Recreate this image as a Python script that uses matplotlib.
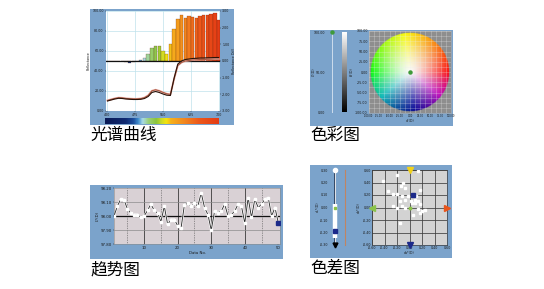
import numpy as np
import matplotlib
matplotlib.use("Agg")
import matplotlib.pyplot as plt
from matplotlib.colors import LinearSegmentedColormap, Normalize, hsv_to_rgb
from matplotlib.patches import Rectangle
from matplotlib.lines import Line2D

# ---------------- data ----------------
captions = ["光谱曲线", "色彩图", "趋势图", "色差图"]

wavelengths = list(range(400, 701, 10))
refl_diff = [0.0, 0.02, 0.01, 0.0, 0.02, -0.05, -0.12, -0.06, 0.02, 0.05,
             0.16, 0.42, 0.8, 0.9, 0.88, 0.62, 0.45, 1.0, 1.9, 2.5,
             2.75, 2.6, 2.7, 2.65, 2.6, 2.7, 2.75, 2.75, 2.8, 2.9, 2.45]
refl_standard = [10, 11, 12, 12.7, 12.5, 12, 11.7, 11.5, 11.5, 11.7,
                 12.5, 14.5, 18.5, 19.5, 18.5, 17, 15.8, 15.5, 33, 47,
                 50, 51.5, 52, 52.5, 52.7, 53, 53, 53.2, 53.3, 53.5, 53.5]
refl_sample = [10.6, 11.6, 12.6, 13.3, 13.1, 12.6, 12.3, 12.1, 12.1, 12.4,
               13.4, 15.6, 20.2, 21.2, 20.2, 18.6, 17.2, 16.6, 32, 45.5,
               48.5, 50, 50.5, 51, 51.2, 51.5, 51.5, 51.7, 51.8, 52, 52]
spec_ticks = [400, 475, 550, 625, 700]
refl_ticks = [0, 20, 40, 60, 80, 100]
diff_ticks = [-3, -2, -1, 0, 1, 2, 3]

L_ticks = [0, 50, 100]
L_sample = 100
ab_ticks = [-100, -75, -50, -25, 0, 25, 50, 75, 100]
a_sample, b_sample = 0, 0

trend_x = list(range(1, 51))
trend_L = [98.00, 98.07, 98.12, 98.115, 98.05, 98.02, 98.01, 98.01, 97.99, 98.00,
           98.04, 98.085, 98.04, 98.02, 97.96, 98.07, 97.94, 97.975, 97.975, 97.93,
           97.915, 98.08, 98.09, 98.07, 98.09, 98.07, 98.165, 98.06, 98.01, 97.90,
           98.035, 98.025, 98.035, 98.085, 98.00, 98.01, 98.035, 98.085, 98.07, 97.95,
           98.13, 97.99, 98.12, 98.06, 98.085, 98.12, 98.13, 98.00, 98.06, 97.95]
trend_xticks = [10, 20, 30, 40, 50]
trend_yticks = [97.80, 97.90, 98.00, 98.10, 98.20]
trend_target = 98.00

dL_ticks = [-0.3, -0.2, -0.1, 0.0, 0.1, 0.2, 0.3]
dL_range = [0.03, -0.24]
dL_current = -0.19
dL_top = 0.30
da_values = [-0.20, 0.13, -0.43, -0.10, -0.14, -0.07, 0.17, -0.34, -0.27, -0.20,
             -0.12, -0.02, -0.07, -0.15, 0.03, 0.09, 0.14, 0.04, 0.09, 0.17,
             -0.27, -0.20, -0.12, -0.07, 0.14, 0.25, 0.20, 0.06, 0.17, -0.15, 0.11]
db_values = [0.52, 0.59, 0.43, 0.40, 0.34, 0.31, 0.28, 0.26, 0.21, 0.21,
             0.19, 0.18, 0.12, 0.11, 0.10, 0.12, 0.10, 0.07, 0.07, 0.06,
             0.02, 0.00, 0.02, -0.01, -0.03, -0.04, -0.06, -0.12, -0.09, -0.25, 0.18]
da_current, db_current = 0.06, 0.20
dab_ticks = [-0.6, -0.4, -0.2, 0.0, 0.2, 0.4, 0.6]

# ---------------- layout helpers ----------------
W, H = 544, 289
fig = plt.figure(figsize=(W / 100, H / 100), dpi=100)
fig.patch.set_facecolor("white")
BLUE = "#7ba3cb"
TINY = 2.3
TXT = "#1a1a1a"


def rect(x0, y0, x1, y1):
    return [x0 / W, 1 - y1 / H, (x1 - x0) / W, (y1 - y0) / H]


def frame(x0, y0, x1, y1):
    fig.add_artist(Rectangle((x0 / W, 1 - y1 / H), (x1 - x0) / W, (y1 - y0) / H,
                             transform=fig.transFigure, facecolor=BLUE,
                             edgecolor="none", zorder=-5))


def ftext(x, y, s, **kw):
    kw.setdefault("fontsize", TINY)
    kw.setdefault("color", TXT)
    fig.text(x / W, 1 - y / H, s, **kw)


def tiny_axes(ax):
    ax.tick_params(labelsize=TINY, length=0.8, width=0.3, pad=0.8, colors=TXT)


# ---------------- panel 1 : spectral curves ----------------
frame(90, 9, 234, 125)
spec_cmap = LinearSegmentedColormap.from_list("spec", [
    (0.0, "#0a1a55"), (0.18, "#0f2a72"), (0.25, "#1d4f9e"), (0.29, "#3f8ccc"),
    (0.33, "#a9dbe6"), (0.38, "#9bd17a"), (0.45, "#8ac43c"), (0.5, "#cfdc25"),
    (0.54, "#f4e40c"), (0.58, "#f6b01b"), (0.7, "#f2861f"), (0.82, "#ed5a1b"),
    (1.0, "#e43c15")])
wnorm = Normalize(400, 700)

ax_g = fig.add_axes(rect(106, 11, 220, 111))
ax_g.set_facecolor("white")
ax_g.set_xlim(396, 704)
ax_g.set_ylim(0, 100)
ax_g.set_xticks(spec_ticks)
ax_g.set_yticks(refl_ticks)
ax_g.set_xticklabels([str(t) for t in spec_ticks])
ax_g.set_yticklabels([f"{t:.2f}" for t in refl_ticks])
ax_g.grid(True, color="#bfe2ec", lw=0.5)
tiny_axes(ax_g)
ax_g.set_xlabel("Wavelength (nm)", fontsize=TINY, labelpad=0.5, color=TXT)
ax_g.set_ylabel("Reflectance", fontsize=TINY, labelpad=1, color=TXT)
for s in ax_g.spines.values():
    s.set_visible(False)

ax_b = ax_g.twinx()
ax_b.set_ylim(-3, 3)
ax_b.set_yticks(diff_ticks)
ax_b.set_yticklabels([f"{t:.2f}" for t in diff_ticks])
tiny_axes(ax_b)
ax_b.set_ylabel("Reflectance Diff.", fontsize=TINY, labelpad=1, color=TXT)
for s in ax_b.spines.values():
    s.set_visible(False)
bar_colors = spec_cmap(wnorm(np.array(wavelengths)))
ax_b.bar(wavelengths, refl_diff, width=9.2, color=bar_colors,
         edgecolor=(0.35, 0.12, 0.05, 0.55), linewidth=0.3, zorder=2)
ax_b.axhline(0, color="#111111", lw=0.9, zorder=3)

ax_c = fig.add_axes(rect(106, 11, 220, 111), sharex=ax_g, sharey=ax_g)
ax_c.set_facecolor("none")
ax_c.axis("off")
ax_c.plot(wavelengths, refl_sample, color="#e6aaa2", lw=1.4)
ax_c.plot(wavelengths, refl_sample, color="#9c4a30", lw=0.6)
ax_c.plot(wavelengths, refl_standard, color="#2a1208", lw=0.8)

ax_cb = fig.add_axes(rect(105, 118, 219, 124))
grad = np.linspace(400, 700, 300)[None, :]
ax_cb.imshow(grad, cmap=spec_cmap, norm=wnorm, aspect="auto",
             extent=[400, 700, 0, 1])
ax_cb.axis("off")

# ---------------- panel 2 : colour plot ----------------
frame(310, 30, 453, 126)
ax_L = fig.add_axes(rect(326, 32, 338, 113))
ax_L.set_xlim(-1, 1)
ax_L.set_ylim(min(L_ticks), max(L_ticks))
ax_L.set_facecolor("none")
ax_L.axvline(0, color="#cddced", lw=0.7)
ax_L.plot([0], [L_sample], "o", color="#3f9a3a", ms=2.2, clip_on=False)
ax_L.set_xticks([])
ax_L.set_yticks(L_ticks)
ax_L.set_yticklabels([f"{t:.2f}" for t in L_ticks])
tiny_axes(ax_L)
ax_L.tick_params(length=0, pad=0.5)
for s in ax_L.spines.values():
    s.set_visible(False)
ftext(314, 72, "L*(D)", rotation=90, ha="center", va="center")

ax_gray = fig.add_axes(rect(342, 32, 347, 112))
ax_gray.imshow(np.linspace(0, 1, 200)[:, None], cmap="gray", origin="lower",
               aspect="auto")
ax_gray.axis("off")

ax_ab = fig.add_axes(rect(369, 31, 451, 113))
ax_ab.set_facecolor("#8e8e8e")
ax_ab.set_xlim(-100, 100)
ax_ab.set_ylim(-100, 100)
n = 300
g = np.linspace(-100, 100, n)
A, B = np.meshgrid(g, g)
r = np.hypot(A, B)
R = 96
ang = np.degrees(np.arctan2(B, A)) % 360
hue = np.interp(ang, [0, 45, 90, 135, 180, 225, 270, 315, 360],
                [0, 28, 55, 85, 120, 185, 232, 290, 360]) / 360
sat = np.clip(r / R, 0, 1) ** 1.25 * 0.95
down = np.clip(-np.sin(np.radians(ang)), 0, 1)
val = 0.98 - 0.4 * down * np.clip(r / R, 0, 1)
rgb = hsv_to_rgb(np.dstack([hue, sat, val]))
alpha = (r <= R).astype(float)
ax_ab.imshow(np.dstack([rgb, alpha]), extent=[-100, 100, -100, 100],
             origin="lower", zorder=1)
ax_ab.set_xticks(ab_ticks)
ax_ab.set_yticks(ab_ticks)
ax_ab.set_xticks(np.arange(-100, 101, 12.5), minor=True)
ax_ab.set_yticks(np.arange(-100, 101, 12.5), minor=True)
ax_ab.grid(True, which="both", color="#eeeeee", lw=0.4, alpha=0.45, zorder=2)
ax_ab.set_axisbelow(False)
ax_ab.set_xticklabels([f"{t:.2f}" for t in ab_ticks], fontsize=1.8)
ax_ab.set_yticklabels([f"{t:.2f}" for t in ab_ticks])
tiny_axes(ax_ab)
ax_ab.tick_params(which="both", length=0)
ax_ab.tick_params(axis="x", labelsize=1.8)
for s in ax_ab.spines.values():
    s.set_color("#a8a8a8")
    s.set_linewidth(0.4)
ax_ab.plot([a_sample], [b_sample], "o", color="#3f9a3a", ms=2.2, zorder=4)
ax_ab.set_xlabel("a*(D)", fontsize=TINY, labelpad=1, color=TXT)
ax_ab.set_ylabel("b*(D)", fontsize=TINY, labelpad=1, color=TXT)

# ---------------- panel 3 : trend ----------------
frame(90, 185, 283, 259)
ax_t = fig.add_axes(rect(114, 188, 280, 244))
ax_t.set_facecolor("#d9d1d5")
ax_t.set_xlim(1, 50.5)
ax_t.set_ylim(min(trend_yticks), max(trend_yticks))
for xv in trend_xticks[:-1]:
    ax_t.axvline(xv, color="#3a3a3a", lw=0.6, zorder=1)
for xv in [5, 15, 25, 35, 45]:
    ax_t.axvline(xv, color="#4a4a4a", lw=0.5, ls=(0, (1, 1.5)), zorder=1)
for yv in trend_yticks[1:-1]:
    ax_t.axhline(yv, color="#8c8c8c", lw=0.5, zorder=1)
ax_t.axhline(trend_target, color="#111111", lw=0.9, zorder=1)
ax_t.plot(trend_x, trend_L, color="white", lw=1.5, zorder=2)
ax_t.plot(trend_x, trend_L, color="#222222", lw=0.6, zorder=3,
          marker="s", ms=1.8, mfc="white", mec="white")
ax_t.plot(trend_x[-1:], trend_L[-1:], "s", color="#1c2a8a", ms=2.2, zorder=4)
ax_t.set_xticks(trend_xticks)
ax_t.set_yticks(trend_yticks)
ax_t.set_yticklabels([f"{t:.2f}" for t in trend_yticks])
tiny_axes(ax_t)
ax_t.tick_params(labelsize=2.8)
ax_t.set_xlabel("Data No.", fontsize=2.8, labelpad=0.8, color=TXT)
ax_t.set_ylabel("L*(D)", fontsize=2.8, labelpad=1, color=TXT)
for s in ax_t.spines.values():
    s.set_color("#8a8a8a")
    s.set_linewidth(0.4)

# ---------------- panel 4 : colour difference ----------------
frame(310, 165, 452, 258)
ax_dL = fig.add_axes(rect(329, 170, 341, 245))
ax_dL.set_facecolor("none")
ax_dL.set_xlim(-1, 1)
ax_dL.set_ylim(min(dL_ticks), max(dL_ticks))
ax_dL.plot([0, 0], [min(dL_ticks), max(dL_ticks)], color="#2a3a55", lw=1.2, zorder=1)
ax_dL.plot([0, 0], [min(dL_ticks), max(dL_ticks)], color="white", lw=0.6, zorder=2)
ax_dL.plot([0, 0], dL_range, color="white", lw=3.2, solid_capstyle="butt", zorder=3)
ax_dL.plot([0], [dL_top], "o", color="white", ms=3, clip_on=False, zorder=4)
ax_dL.plot([0], [0.0], "s", color="#8bc34a", ms=2, zorder=4)
ax_dL.plot([0], [dL_current], "s", color="#1c2a8a", ms=2.2, zorder=4)
ax_dL.plot([0], [min(dL_ticks)], "v", color="black", ms=3.5, clip_on=False, zorder=4)
ax_dL.set_xticks([])
ax_dL.set_yticks(dL_ticks)
ax_dL.set_yticklabels([f"{t:.2f}" for t in dL_ticks])
tiny_axes(ax_dL)
ax_dL.tick_params(length=0, pad=0.5)
for s in ax_dL.spines.values():
    s.set_visible(False)
ftext(318, 207, "dL*(D)", rotation=90, ha="center", va="center")
fig.add_artist(Line2D([345 / W, 345 / W], [1 - 170 / H, 1 - 245 / H],
                      transform=fig.transFigure, color="#c08462", lw=0.8))

ax_d = fig.add_axes(rect(372, 170, 447, 245))
ax_d.set_facecolor("#d3d3d3")
ax_d.set_xlim(min(dab_ticks), max(dab_ticks))
ax_d.set_ylim(min(dab_ticks), max(dab_ticks))
ax_d.set_xticks(dab_ticks)
ax_d.set_yticks(dab_ticks)
ax_d.set_xticklabels([f"{t:.2f}" for t in dab_ticks])
ax_d.set_yticklabels([f"{t:.2f}" for t in dab_ticks])
ax_d.grid(True, color="#3c3c3c", lw=0.55)
ax_d.set_axisbelow(True)
tiny_axes(ax_d)
ax_d.tick_params(length=0)
for s in ax_d.spines.values():
    s.set_color("#3c3c3c")
    s.set_linewidth(0.5)
ax_d.plot(da_values, db_values, "s", color="white", ms=2, zorder=3)
ax_d.plot([da_current], [db_current], "s", color="#1c2a8a", ms=2.4, zorder=4)
ax_d.plot([0], [0], "o", color="#8bc34a", ms=1.8, zorder=4)
lo, hi = min(dab_ticks), max(dab_ticks)
ax_d.plot([0], [hi], "v", color="#f2d21a", ms=4, clip_on=False, zorder=5)
ax_d.plot([lo], [0], "<", color="#8bc34a", ms=4, clip_on=False, zorder=5)
ax_d.plot([hi], [0], ">", color="#e8551c", ms=4, clip_on=False, zorder=5)
ax_d.plot([0], [lo], "v", color="#1c2a8a", ms=4, clip_on=False, zorder=5)
ax_d.set_xlabel("da*(D)", fontsize=TINY, labelpad=1, color=TXT)
ax_d.set_ylabel("db*(D)", fontsize=TINY, labelpad=1, color=TXT)

# ---------------- captions ----------------
cap_pos = [(90, 135), (310, 135), (90, 270), (310, 268)]
for (cx, cy), cap in zip(cap_pos, captions):
    fig.text(cx / W, 1 - cy / H, cap, fontsize=12, color="black",
             family=["Noto Sans CJK SC", "DejaVu Sans"], ha="left", va="center")

fig.savefig("out.png", dpi=100, facecolor="white")
